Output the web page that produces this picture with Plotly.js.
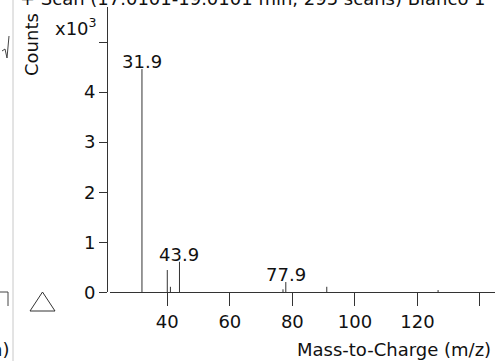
<!DOCTYPE html>
<html>
<head>
<meta charset="utf-8">
<script src="https://cdn.plot.ly/plotly-3.0.1.min.js"></script>
<style>html,body{margin:0;padding:0;background:#fff;}#chart{width:495px;height:361px;}</style>
</head>
<body>
<div id="chart"></div>
<script>
// Peak positions (m/z) and intensities (counts)
var mz     = [31.9, 40.0, 41.0, 43.9, 77.0, 77.9, 91.0, 126.6];
var counts = [4460, 445, 110, 610, 60, 205, 110, 45];
// Labelled peaks
var labelMz     = [31.9, 43.9, 77.9];
var labelCounts = [4460, 610, 205];
var labelText   = ["31.9", "43.9", "77.9"];
// Axis ticks
var xTickVals = [40, 60, 80, 100, 120, 140];
var xTickText = ["40", "60", "80", "100", "120", ""];
var yTickVals = [0, 1000, 2000, 3000, 4000, 5000];
var yTickText = ["0", "1", "2", "3", "4", ""];
var titleText = "+ Scan (17.0101-19.0101 min, 295 scans) Blanco 1";

var W = 495, H = 361;
function px(x){ return x / W; }
function py(y){ return 1 - y / H; }

var sx = [], sy = [];
for (var i = 0; i < mz.length; i++) {
  sx.push(mz[i], mz[i], null);
  sy.push(0, counts[i], null);
}

var FONT = "DejaVu Sans";
var trace = {
  type: "scatter", mode: "lines", x: sx, y: sy,
  line: {color: "#333", width: 1}, hoverinfo: "skip", showlegend: false
};

var annotations = [];
for (var j = 0; j < labelMz.length; j++) {
  annotations.push({
    x: labelMz[j], y: labelCounts[j], xref: "x", yref: "y",
    text: labelText[j], showarrow: false, xanchor: "center", yanchor: "bottom",
    yshift: -5, font: {family: FONT, size: 18, color: "#111"}
  });
}
annotations.push({x: px(18), y: py(6), xref: "paper", yref: "paper", text: titleText,
  showarrow: false, xanchor: "left", yanchor: "bottom", yshift: -5,
  font: {family: FONT, size: 18, color: "#111"}});
annotations.push({x: px(31), y: py(45), xref: "paper", yref: "paper", text: "Counts",
  showarrow: false, textangle: -90, xanchor: "center", yanchor: "middle",
  font: {family: FONT, size: 18, color: "#111"}});
annotations.push({x: px(53), y: py(27), xref: "paper", yref: "paper", text: "x10<sup>3</sup>",
  showarrow: false, xanchor: "left", yanchor: "middle",
  font: {family: FONT, size: 18, color: "#111"}});
annotations.push({x: px(493), y: py(349), xref: "paper", yref: "paper", text: "Mass-to-Charge (m/z)",
  showarrow: false, xanchor: "right", yanchor: "middle",
  font: {family: FONT, size: 18, color: "#111"}});
annotations.push({x: px(11), y: py(349), xref: "paper", yref: "paper", text: "in)",
  showarrow: false, xanchor: "right", yanchor: "middle",
  font: {family: FONT, size: 18, color: "#111"}});

var shapes = [
  {type: "line", xref: "paper", yref: "paper", x0: px(13), x1: px(13), y0: 0, y1: 1,
   line: {color: "#c8c8c8", width: 1}},
  {type: "path", xref: "paper", yref: "paper",
   path: "M " + px(0) + "," + py(292) + " L " + px(8) + "," + py(292) + " L " + px(8) + "," + py(306),
   line: {color: "#444", width: 1}},
  {type: "path", xref: "paper", yref: "paper",
   path: "M " + px(30) + "," + py(311) + " L " + px(42.5) + "," + py(292) + " L " + px(55) + "," + py(311) + " Z",
   line: {color: "#333", width: 1}},
  {type: "path", xref: "paper", yref: "paper",
   path: "M " + px(2) + "," + py(51) + " L " + px(5) + "," + py(49) + " L " + px(7) + "," + py(58) + " L " + px(9) + "," + py(36),
   line: {color: "#444", width: 1}}
];

var layout = {
  width: W, height: H,
  margin: {l: 0, r: 0, t: 0, b: 0, pad: 0},
  paper_bgcolor: "#fff", plot_bgcolor: "#fff",
  showlegend: false,
  xaxis: {
    domain: [px(110), 1], range: [21.68, 144.8], anchor: "y",
    showgrid: false, zeroline: false, showline: true, linecolor: "#333", linewidth: 1,
    ticks: "outside", ticklen: 13, tickcolor: "#333", tickwidth: 1,
    tickvals: xTickVals, ticktext: xTickText,
    tickfont: {family: FONT, size: 18, color: "#111"}
  },
  yaxis: {
    domain: [py(292.3), py(7)], range: [0, 5700], anchor: "free", position: px(107),
    showgrid: false, zeroline: false, showline: true, linecolor: "#333", linewidth: 1,
    ticks: "outside", ticklen: 8, tickcolor: "#333", tickwidth: 1,
    tickvals: yTickVals, ticktext: yTickText,
    tickfont: {family: FONT, size: 18, color: "#111"}
  },
  annotations: annotations,
  shapes: shapes
};

Plotly.newPlot("chart", [trace], layout, {staticPlot: true, displayModeBar: false});
</script>
</body>
</html>
